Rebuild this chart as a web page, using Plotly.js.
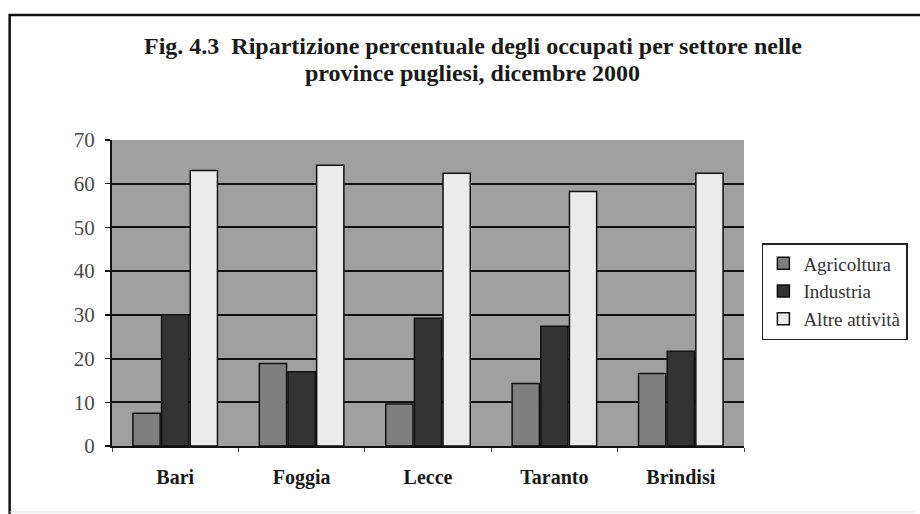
<!DOCTYPE html>
<html>
<head>
<meta charset="utf-8">
<script src="https://cdn.plot.ly/plotly-3.0.1.min.js"></script>
<style>
  html, body { margin: 0; padding: 0; background: #ffffff; }
  #chart { width: 920px; height: 514px; }
</style>
</head>
<body>
<div id="chart"></div>
<script>
// Province pugliesi e quote percentuali di occupati per settore (dicembre 2000)
const categories = ['Bari', 'Foggia', 'Lecce', 'Taranto', 'Brindisi'];
const agricoltura = [7.5, 18.9, 9.6, 14.3, 16.6];
const industria = [30.0, 17.0, 29.2, 27.4, 21.7];
const altreAttivita = [63.0, 64.2, 62.4, 58.2, 62.4];
const seriesNames = ['Agricoltura', 'Industria', 'Altre attività'];
const yTicks = [0, 10, 20, 30, 40, 50, 60, 70];
const titleLines = [
  'Fig. 4.3  Ripartizione percentuale degli occupati per settore nelle',
  'province pugliesi, dicembre 2000'
];

const serif = 'Liberation Serif, Times New Roman, serif';
const fills = ['#7f7f7f', '#333333', '#ebebeb'];
const values = [agricoltura, industria, altreAttivita];

const traces = values.map((v, i) => ({
  type: 'bar',
  x: categories,
  y: v,
  name: seriesNames[i],
  legendgroup: 'g' + i,
  marker: { color: fills[i], line: { color: '#111111', width: 1.5 } },
  hoverinfo: 'x+y+name'
}));

// plot area in pixels: x 112..748, y 140..446
const L = 112, R = 748, T = 140, B = 446;
const px = x => (x - L) / (R - L);
const py = y => (B - y) / (B - T);

// two-line heading, set as separate lines for tight leading
const titleY = [46, 73];
const annotations = titleLines.map((t, i) => ({
  text: '<b>' + t + '</b>',
  xref: 'paper', yref: 'paper',
  x: px(475), y: py(titleY[i]),
  xanchor: 'center', yanchor: 'middle',
  showarrow: false,
  font: { family: serif, size: 24, color: '#1a1a1a' }
}));

const layout = {
  width: 920,
  height: 514,
  margin: { l: L, r: 920 - R, t: T, b: 514 - B, pad: 0 },
  paper_bgcolor: '#ffffff',
  plot_bgcolor: '#a0a0a0',
  font: { family: serif, color: '#333333', size: 19 },
  annotations: annotations,
  barmode: 'group',
  bargap: 0.32,
  bargroupgap: 0.05,
  xaxis: {
    type: 'category',
    showgrid: false,
    showline: true,
    linecolor: '#111111',
    linewidth: 2,
    ticks: 'outside',
    tickson: 'boundaries',
    ticklen: 4,
    tickcolor: '#444444',
    tickwidth: 1,
    ticklabelstandoff: 12,
    tickfont: { family: serif, size: 20, color: '#1a1a1a', weight: 'bold' },
    zeroline: false,
    fixedrange: true
  },
  yaxis: {
    range: [0, 70],
    tickvals: yTicks,
    showgrid: true,
    gridcolor: '#111111',
    gridwidth: 2,
    showline: true,
    linecolor: '#111111',
    linewidth: 2,
    ticks: 'outside',
    ticklen: 5,
    tickcolor: '#111111',
    tickwidth: 1.5,
    ticklabelstandoff: 6,
    tickfont: { family: serif, size: 21, color: '#4a4a4a' },
    zeroline: false,
    fixedrange: true
  },
  legend: {
    x: px(766),
    xanchor: 'left',
    y: py(243),
    yanchor: 'top',
    bgcolor: '#ffffff',
    bordercolor: '#222222',
    borderwidth: 1.5,
    traceorder: 'grouped',
    tracegroupgap: 0,
    itemwidth: 30,
    font: { family: serif, size: 19, color: '#333333' }
  },
  shapes: [
    { type: 'rect', xref: 'paper', yref: 'paper',
      x0: px(9), x1: px(930), y0: py(15), y1: py(525),
      line: { color: '#111111', width: 2.5 }, fillcolor: 'rgba(0,0,0,0)', layer: 'below' },
    { type: 'line', xref: 'paper', yref: 'paper',
      x0: px(9), x1: px(920), y0: py(512), y1: py(512),
      line: { color: '#dddddd', width: 1 } }
  ]
};

Plotly.newPlot('chart', traces, layout, { staticPlot: true, displayModeBar: false });
</script>
</body>
</html>
